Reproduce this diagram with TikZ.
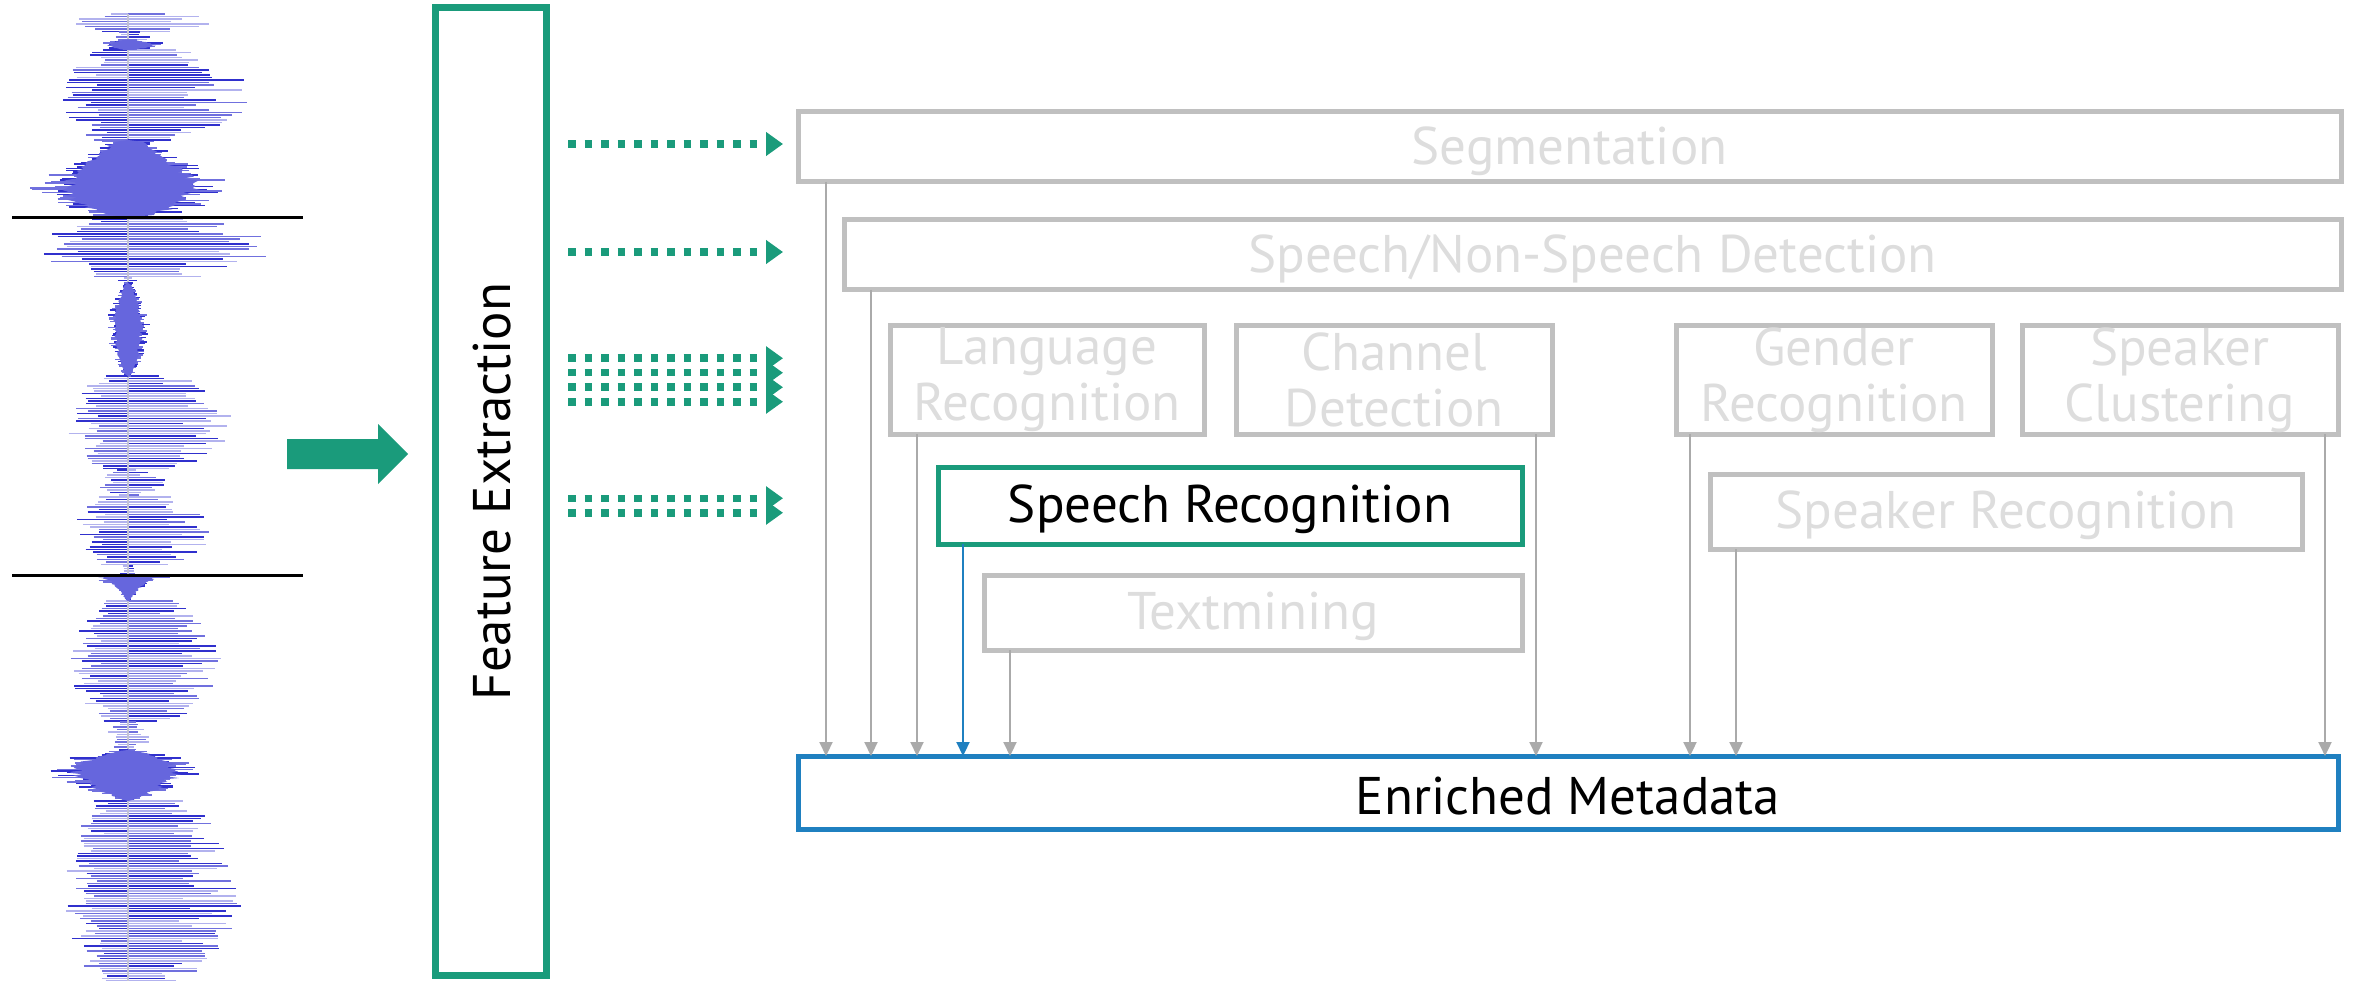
\documentclass[tikz,border=0pt]{standalone}
\usepackage{fontspec}
\setmainfont{PT Sans}
\usetikzlibrary{arrows.meta}

\definecolor{fgreen}{RGB}{26,155,123}
\definecolor{fblue}{RGB}{31,128,192}
\definecolor{bgray}{RGB}{192,192,192}
\definecolor{tgray}{RGB}{221,221,221}
\definecolor{agray}{RGB}{170,170,170}
\definecolor{wc0}{RGB}{48,48,205}
\definecolor{wc1}{RGB}{112,112,222}
\definecolor{wc2}{RGB}{178,178,238}
\definecolor{wblob}{RGB}{102,102,221}
\definecolor{waxis}{RGB}{195,195,212}

% one stretch of the waveform:
% y0, y1, left amplitude, right amplitude, line step, floor, random share, peak exponent, number of shades
\newcommand\wavepart[9]{%
  \pgfmathtruncatemacro\wn{(#2-#1)/#5}
  \foreach \k in {0,...,\wn}{
    \pgfmathsetmacro\wy{#1+\k*#5}
    \pgfmathsetmacro\wt{(\k+0.5)/(\wn+1)}
    \pgfmathsetmacro\we{#6+(1-#6)*sin(180*\wt^#8)}
    \pgfmathsetmacro\wl{#3*\we*((1-#7)+#7*rnd)}
    \pgfmathsetmacro\wr{#4*\we*((1-#7)+#7*rnd)}
    \pgfmathtruncatemacro\wa{#9*rnd}
    \pgfmathtruncatemacro\wb{#9*rnd}
    \draw[wc\wa, line width=1.4] ({128-\wl},\wy) -- (128,\wy);
    \draw[wc\wb, line width=1.4] (128,\wy) -- ({128+\wr},\wy);
  }}

% a dense burst of the waveform: y0, y1, left amplitude, right amplitude, peak exponent, floor
\newcommand\waveblob[6]{%
  \wavepart{#1}{#2}{#3}{#4}{1.6}{#6}{0.5}{#5}{2}
  \fill[wblob] (128,#1)
    \foreach \k in {1,...,39}{ -- ({128+#4*(#6+(1-#6)*sin(180*(\k/40)^#5))*(0.5+0.2*rnd)},{#1+(#2-#1)*\k/40}) }
    -- (128,#2)
    \foreach \k in {39,...,1}{ -- ({128-#3*(#6+(1-#6)*sin(180*(\k/40)^#5))*(0.5+0.2*rnd)},{#1+(#2-#1)*\k/40}) }
    -- cycle;}

\tikzset{
  lab/.style={font=\fontsize{53}{56}\selectfont, align=center},
  boxlab/.style={lab, execute at begin node={\rule{0pt}{0.86em}}},
  gbox/.style={draw=bgray, line width=5, text=tgray, boxlab, inner sep=0pt, outer sep=0pt, anchor=north west},
  hbox/.style={draw=fgreen, line width=5, text=black, boxlab, inner sep=0pt, outer sep=0pt, anchor=north west},
  mbox/.style={draw=fblue, line width=5, text=black, boxlab, inner sep=0pt, outer sep=0pt, anchor=north west},
  febox/.style={draw=fgreen, line width=7, inner sep=0pt, outer sep=0pt, anchor=north west},
  garrow/.style={draw=agray, line width=2.2, -{Triangle[length=14pt,width=13pt]}},
  barrow/.style={draw=fblue, line width=2.2, -{Triangle[length=14pt,width=13pt]}},
  dotarrow/.style={draw=fgreen, line width=7.5, dash pattern=on 7.5pt off 9pt,
    -{Triangle[length=17pt,width=23pt]}},
}

\begin{document}
\begin{tikzpicture}[x=1pt,y=-1pt]
\useasboundingbox (0,0) rectangle (2353,981);

% ---- audio waveform, drawn upright ----
\pgfmathsetseed{23}
\wavepart{14}{32}{62}{95}{2.5}{0.5}{0.55}{1}{3}
\wavepart{32}{50}{20}{25}{2.5}{0.4}{0.6}{1}{3}
\wavepart{50}{140}{70}{125}{2.5}{0.5}{0.55}{1}{3}
\wavepart{219}{278}{90}{150}{2.5}{0.5}{0.55}{1}{3}
\wavepart{278}{285}{10}{10}{2.5}{0.5}{0.6}{1}{3}
\wavepart{376}{470}{62}{112}{2.5}{0.5}{0.55}{1}{3}
\wavepart{470}{497}{35}{40}{2.5}{0.3}{0.6}{1}{3}
\wavepart{497}{566}{56}{88}{2.5}{0.5}{0.55}{1}{3}
\wavepart{566}{577}{10}{10}{2.5}{0.5}{0.6}{1}{3}
\wavepart{601}{722}{60}{98}{2.5}{0.5}{0.55}{1}{3}
\wavepart{722}{750}{25}{25}{2.5}{0.3}{0.6}{1}{3}
\wavepart{801}{981}{66}{115}{2.5}{0.55}{0.55}{1}{3}
\draw[waxis, line width=1.5] (128,14) -- (128,981);
\waveblob{40}{50}{30}{40}{1}{0.2}
\waveblob{140}{217}{100}{110}{1.5}{0.25}
\waveblob{283}{376}{22}{22}{1}{0.2}
\waveblob{577}{601}{45}{50}{0.15}{0.05}
\waveblob{750}{801}{83}{78}{0.8}{0.05}
\draw[black, line width=3] (12,218) -- (303,218);
\draw[black, line width=3] (12,575) -- (303,575);

% ---- feature extraction ----
\fill[fgreen] (287,439) -- (378,439) -- (378,424) -- (408,454) -- (378,484)
  -- (378,469) -- (287,469) -- cycle;
\node[febox, minimum width=111, minimum height=967] (fe) at (435,8) {};
\node[lab, rotate=90] (fetext) at ([xshift=2pt]fe.center) {Feature Extraction};

% ---- analysis modules ----
\node[gbox, minimum width=1543, minimum height=70] (seg) at (798,112) {Segmentation};
\node[gbox, minimum width=1497, minimum height=70] (sns) at (844,220) {Speech/Non-Speech Detection};
\node[gbox, minimum width=314, minimum height=108] (lang) at (890,326) {Language\\Recognition};
\node[gbox, minimum width=316, minimum height=108] (chan) at (1236,326) {Channel\\Detection};
\node[gbox, minimum width=316, minimum height=108] (gend) at (1676,326) {Gender\\Recognition};
\node[gbox, minimum width=316, minimum height=108] (clus) at (2022,326) {Speaker\\Clustering};
\node[hbox, minimum width=584, minimum height=77] (srec) at (938,467) {Speech Recognition};
\node[gbox, minimum width=592, minimum height=75] (spkr) at (1710,474) {Speaker Recognition};
\node[gbox, minimum width=538, minimum height=75] (tmin) at (984,575) {Textmining};
\node[mbox, minimum width=1540, minimum height=73] (meta) at (798,756) {Enriched Metadata};

% ---- features fed to the modules ----
\coordinate (dend) at (783,0);
\draw[dotarrow] ([xshift=22pt,yshift=3pt]fe.east |- seg.west) -- ([yshift=3pt]dend |- seg.west);
\draw[dotarrow] ([xshift=22pt,yshift=3pt]fe.east |- sns.west) -- ([yshift=3pt]dend |- sns.west);
\foreach \dy in {-21.75,-7.25,7.25,21.75}{
  \draw[dotarrow] ([xshift=22pt,yshift=\dy pt]fe.east |- lang.west) -- ([yshift=\dy pt]dend |- lang.west);
}
\foreach \dy in {-7.25,7.25}{
  \draw[dotarrow] ([xshift=22pt,yshift=\dy pt]fe.east |- srec.west) -- ([yshift=\dy pt]dend |- srec.west);
}

% ---- results collected as metadata ----
\draw[garrow] ([xshift=28pt]seg.south west) -- ([xshift=28pt]seg.south west |- meta.north);
\draw[garrow] ([xshift=27pt]sns.south west) -- ([xshift=27pt]sns.south west |- meta.north);
\draw[garrow] ([xshift=27pt]lang.south west) -- ([xshift=27pt]lang.south west |- meta.north);
\draw[barrow] ([xshift=25pt]srec.south west) -- ([xshift=25pt]srec.south west |- meta.north);
\draw[garrow] ([xshift=26pt]tmin.south west) -- ([xshift=26pt]tmin.south west |- meta.north);
\draw[garrow] ([xshift=-16pt]chan.south east) -- ([xshift=-16pt]chan.south east |- meta.north);
\draw[garrow] ([xshift=14pt]gend.south west) -- ([xshift=14pt]gend.south west |- meta.north);
\draw[garrow] ([xshift=26pt]spkr.south west) -- ([xshift=26pt]spkr.south west |- meta.north);
\draw[garrow] ([xshift=-13pt]clus.south east) -- ([xshift=-13pt]clus.south east |- meta.north);
\end{tikzpicture}
\end{document}
